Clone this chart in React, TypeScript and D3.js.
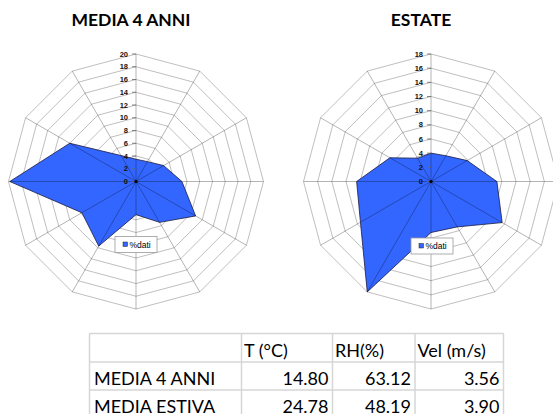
import React from "react";
import * as d3 from "d3";

const directions = ["N", "NNE", "ENE", "E", "ESE", "SSE", "S", "SSW", "WSW", "W", "WNW", "NNW"];
const mediaValues = [3.5, 3.6, 5.0, 7.2, 10.8, 7.4, 5.2, 11.7, 9.8, 19.8, 12.0, 4.7];
const estateValues = [4.0, 4.2, 5.9, 9.3, 11.6, 7.4, 7.2, 18.0, 11.5, 10.5, 6.7, 3.8];
const mediaTicks = [0, 2, 4, 6, 8, 10, 12, 14, 16, 18, 20];
const estateTicks = [0, 2, 4, 6, 8, 10, 12, 14, 16, 18];
const seriesName = "%dati";

const tableHeader = ["", "T (°C)", "RH(%)", "Vel (m/s)"];
const tableRowLabels = ["MEDIA 4 ANNI", "MEDIA ESTIVA"];
const tableT = ["14.80", "24.78"];
const tableRH = ["63.12", "48.19"];
const tableVel = ["3.56", "3.90"];

const FILL = "#3366ff";

function Radar({ cx, cy, r, values, ticks, title, titleX, legendX, legendY }) {
  const max = ticks[ticks.length - 1];
  const rs = d3.scaleLinear().domain([0, max]).range([0, r]);
  const n = directions.length;
  const ang = d3.scaleLinear().domain([0, n]).range([0, 2 * Math.PI]);
  const ringLine = (v) =>
    d3.lineRadial().angle((d, i) => ang(i)).radius(() => rs(v)).curve(d3.curveLinearClosed)(directions);
  const poly = d3
    .lineRadial()
    .angle((d, i) => ang(i))
    .radius((d) => rs(d))
    .curve(d3.curveLinearClosed)(values);
  return (
    <g>
      <text x={titleX} y={26} textAnchor="middle" fontFamily="Lato, 'Open Sans', sans-serif" fontWeight="bold" fontSize={17.5} fill="#000">
        {title}
      </text>
      <g transform={`translate(${cx},${cy})`}>
        {ticks.slice(1).map((t) => (
          <path key={t} d={ringLine(t)} fill="none" stroke="#b8b8b8" strokeWidth={0.9} />
        ))}
        <path d={poly} fill={FILL} stroke="#1a1a40" strokeWidth={0.8} strokeLinejoin="round" />
        {directions.map((d, i) => {
          const a = ang(i);
          return (
            <line
              key={d}
              x1={0}
              y1={0}
              x2={Math.sin(a) * r}
              y2={-Math.cos(a) * r}
              stroke="rgba(0,0,0,0.33)"
              strokeWidth={0.9}
            />
          );
        })}
        {ticks.map((t) => (
          <g key={t}>
            <line x1={-4} x2={0} y1={-rs(t)} y2={-rs(t)} stroke="#666" strokeWidth={0.8} />
            <text
              x={-8}
              y={-rs(t)}
              dy="0.35em"
              textAnchor="end"
              fontFamily="'Liberation Sans', Arial, sans-serif"
              fontWeight="bold"
              fontSize={7.5}
              fill="#111"
            >
              {t}
            </text>
          </g>
        ))}
        <circle r={1.6} fill="#000" />
      </g>
      <g transform={`translate(${legendX},${legendY})`}>
        <rect width={42} height={16} fill="#fff" stroke="#9a9a9a" strokeWidth={0.8} />
        <rect x={8} y={5.5} width={4.5} height={4.5} fill={FILL} stroke="#222" strokeWidth={0.5} />
        <text x={14.5} y={11} fontFamily="'Liberation Sans', Arial, sans-serif" fontSize={8.5} fill="#000">
          {seriesName}
        </text>
      </g>
    </g>
  );
}

function Table() {
  const cols = [89.5, 241.5, 332.5, 415, 503.5];
  const rows = [333.5, 362, 390, 418];
  const font = "Lato, Carlito, 'Open Sans', sans-serif";
  const fs = 18;
  const dataCols = [tableT, tableRH, tableVel];
  return (
    <g>
      <rect x={cols[0]} y={rows[0]} width={cols[4] - cols[0]} height={rows[3] - rows[0]} fill="#fff" />
      {rows.map((y, i) => (
        <line key={"r" + i} x1={cols[0]} x2={cols[4]} y1={y} y2={y} stroke="#d6d6d6" strokeWidth={1.5} />
      ))}
      {cols.map((x, i) => (
        <line key={"c" + i} x1={x} x2={x} y1={rows[0]} y2={rows[3]} stroke="#d6d6d6" strokeWidth={1.5} />
      ))}
      {tableHeader.map((h, i) =>
        i === 0 ? null : (
          <text key={h} x={cols[i] + 2.5} y={357} fontFamily={font} fontSize={fs} fill="#000">
            {h}
          </text>
        )
      )}
      {tableRowLabels.map((lab, ri) => (
        <g key={lab}>
          <text x={94} y={385 + ri * 27.7} fontFamily={font} fontSize={fs} fill="#000">
            {lab}
          </text>
          {dataCols.map((col, ci) => (
            <text
              key={ci}
              x={cols[ci + 2] - 4}
              y={385 + ri * 27.7}
              textAnchor="end"
              fontFamily={font}
              fontSize={fs}
              fill="#000"
            >
              {col[ri]}
            </text>
          ))}
        </g>
      ))}
    </g>
  );
}

export default function App() {
  return (
    <svg
      width={553}
      height={414}
      style={{ position: "absolute", left: 0, top: 0, background: "#fff" }}
    >
      <rect width={553} height={414} fill="#fff" />
      <Radar
        cx={136}
        cy={181.5}
        r={127.5}
        values={mediaValues}
        ticks={mediaTicks}
        title="MEDIA 4 ANNI"
        titleX={131}
        legendX={115}
        legendY={236.5}
      />
      <Radar
        cx={431}
        cy={181.5}
        r={127.5}
        values={estateValues}
        ticks={estateTicks}
        title="ESTATE"
        titleX={421}
        legendX={411}
        legendY={238}
      />
      <Table />
    </svg>
  );
}
